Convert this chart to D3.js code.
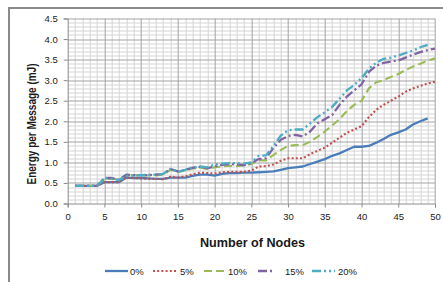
<!DOCTYPE html>
<html>
<head>
<meta charset="utf-8">
<script src="https://cdn.jsdelivr.net/npm/d3@7"></script>
<style>
  body { margin: 0; background: #ffffff; }
  text { font-family: "Liberation Sans", Arial, sans-serif; fill: #1a1a1a; }
</style>
</head>
<body>
<div id="visualization"></div>
<script>
// Number of nodes (x values)
var nodes = d3.range(1, 51);

// Energy per message (mJ) for each loss rate
var series0 = [0.43, 0.43, 0.43, 0.43, 0.52, 0.52, 0.52, 0.63, 0.62, 0.62,
  0.61, 0.60, 0.60, 0.63, 0.63, 0.63, 0.67, 0.70, 0.70, 0.68,
  0.72, 0.74, 0.74, 0.75, 0.75, 0.76, 0.77, 0.78, 0.82, 0.86,
  0.88, 0.90, 0.96, 1.02, 1.08, 1.16, 1.22, 1.30, 1.38, 1.38,
  1.40, 1.48, 1.57, 1.67, 1.73, 1.80, 1.92, 2.00, 2.07];
var series5 = [0.43, 0.43, 0.43, 0.43, 0.52, 0.52, 0.52, 0.63, 0.62, 0.61,
  0.60, 0.60, 0.59, 0.65, 0.63, 0.66, 0.71, 0.75, 0.74, 0.73,
  0.76, 0.77, 0.77, 0.77, 0.80, 0.90, 0.91, 0.95, 1.04, 1.10,
  1.10, 1.10, 1.20, 1.28, 1.36, 1.48, 1.60, 1.72, 1.80, 1.88,
  2.10, 2.28, 2.40, 2.50, 2.60, 2.72, 2.80, 2.86, 2.92, 2.96];
var series10 = [0.43, 0.43, 0.43, 0.43, 0.60, 0.60, 0.58, 0.70, 0.69, 0.68,
  0.68, 0.68, 0.70, 0.82, 0.77, 0.80, 0.85, 0.87, 0.84, 0.88,
  0.90, 0.92, 0.91, 0.93, 0.96, 1.05, 1.05, 1.18, 1.30, 1.40,
  1.42, 1.42, 1.50, 1.62, 1.75, 1.90, 2.05, 2.25, 2.40, 2.50,
  2.80, 2.95, 3.00, 3.08, 3.15, 3.25, 3.33, 3.40, 3.48, 3.53];
var series15 = [0.43, 0.43, 0.43, 0.43, 0.62, 0.62, 0.58, 0.70, 0.69, 0.69,
  0.69, 0.70, 0.72, 0.84, 0.78, 0.82, 0.87, 0.89, 0.86, 0.90,
  0.94, 0.96, 0.95, 0.93, 0.98, 1.08, 1.10, 1.35, 1.55, 1.64,
  1.67, 1.63, 1.75, 1.95, 2.05, 2.15, 2.40, 2.60, 2.75, 2.90,
  3.20, 3.35, 3.42, 3.45, 3.48, 3.55, 3.62, 3.68, 3.73, 3.77];
var series20 = [0.43, 0.43, 0.43, 0.43, 0.62, 0.60, 0.57, 0.67, 0.68, 0.69,
  0.70, 0.70, 0.72, 0.84, 0.77, 0.82, 0.88, 0.90, 0.88, 0.95,
  0.97, 0.98, 0.98, 0.97, 1.00, 1.16, 1.17, 1.40, 1.65, 1.78,
  1.80, 1.80, 1.95, 2.10, 2.22, 2.35, 2.55, 2.75, 2.88, 3.05,
  3.28, 3.42, 3.52, 3.55, 3.60, 3.66, 3.72, 3.80, 3.86];

// Legend labels and tick values
var seriesNames = ["0%", "5%", "10%", "15%", "20%"];
var xTicks = d3.range(0, 51, 5);
var yTicks = d3.range(0, 4.51, 0.5);

// Line styles for each series (colour and dash pattern)
var styles = [
  { color: "#4a7ebb", dash: null, width: 2.3 },
  { color: "#c0504d", dash: "2,2.2", width: 2.1 },
  { color: "#9bbb59", dash: "8,4", width: 2.1 },
  { color: "#8064a2", dash: "9,3,2,3", width: 2.3 },
  { color: "#4bacc6", dash: "9,3,2,3,2,3", width: 2.3 }
];

var allSeries = [series0, series5, series10, series15, series20];

// Set up the dimensions of the visualization
var totalWidth = 443, totalHeight = 282;
var margin = { top: 18.5, right: 8, bottom: 78.5, left: 67.7 };
var width = 435 - margin.left;
var height = 203.5 - margin.top;

var svg = d3.select("#visualization")
  .append("svg")
  .attr("width", totalWidth)
  .attr("height", totalHeight);

// Outer chart frame (only top and left edges fall inside the picture)
svg.append("path")
  .attr("d", "M9,282 L9,8 L443,8")
  .attr("fill", "none")
  .attr("stroke", "#8a8a8a")
  .attr("stroke-width", 2);

var g = svg.append("g")
  .attr("transform", "translate(" + margin.left + "," + margin.top + ")");

// Scales
var xScale = d3.scaleLinear().domain([0, 50]).range([0, width]);
var yScale = d3.scaleLinear().domain([0, 4.5]).range([height, 0]);

// Minor grid lines
g.append("g")
  .selectAll("line")
  .data(d3.range(1, 50).filter(function(d) { return d % 5 !== 0; }))
  .enter().append("line")
  .attr("x1", function(d) { return Math.round(xScale(d)) + 0.5; })
  .attr("x2", function(d) { return Math.round(xScale(d)) + 0.5; })
  .attr("y1", 0)
  .attr("y2", height)
  .attr("stroke", "#d4d4d4");

g.append("g")
  .selectAll("line")
  .data(d3.range(1, 45).filter(function(d) { return d % 5 !== 0; }))
  .enter().append("line")
  .attr("x1", 0)
  .attr("x2", width)
  .attr("y1", function(d) { return Math.round(yScale(d / 10)) + 0.5; })
  .attr("y2", function(d) { return Math.round(yScale(d / 10)) + 0.5; })
  .attr("stroke", "#d4d4d4");

// Major grid lines
g.append("g")
  .selectAll("line")
  .data(xTicks.slice(1))
  .enter().append("line")
  .attr("x1", function(d) { return Math.round(xScale(d)) + 0.5; })
  .attr("x2", function(d) { return Math.round(xScale(d)) + 0.5; })
  .attr("y1", 0)
  .attr("y2", height)
  .attr("stroke", "#a3a3a3");

g.append("g")
  .selectAll("line")
  .data(yTicks.slice(1))
  .enter().append("line")
  .attr("x1", 0)
  .attr("x2", width)
  .attr("y1", function(d) { return Math.round(yScale(d)) + 0.5; })
  .attr("y2", function(d) { return Math.round(yScale(d)) + 0.5; })
  .attr("stroke", "#a3a3a3");

// Axes
var xAxis = g.append("g")
  .attr("transform", "translate(0," + height + ")")
  .call(d3.axisBottom(xScale).tickValues(xTicks).tickSize(4).tickPadding(6)
    .tickFormat(d3.format("d")));

var yAxis = g.append("g")
  .call(d3.axisLeft(yScale).tickValues(yTicks).tickSize(4).tickPadding(6)
    .tickFormat(d3.format(".1f")));

[xAxis, yAxis].forEach(function(ax) {
  ax.select(".domain").attr("stroke", "#8c8c8c");
  ax.selectAll(".tick line").attr("stroke", "#8c8c8c");
  ax.selectAll("text")
    .style("font-family", "'Liberation Sans', Arial, sans-serif")
    .style("font-size", "9.5px")
    .attr("fill", "#1a1a1a");
});

// Lines for each series
var line = d3.line()
  .x(function(d, i) { return xScale(nodes[i]); })
  .y(function(d) { return yScale(d); });

allSeries.forEach(function(values, i) {
  g.append("path")
    .datum(values)
    .attr("fill", "none")
    .attr("stroke", styles[i].color)
    .attr("stroke-width", styles[i].width)
    .attr("stroke-dasharray", styles[i].dash)
    .attr("stroke-linejoin", "round")
    .attr("d", line);
});

// Axis titles
svg.append("text")
  .attr("x", 252.5)
  .attr("y", 247)
  .attr("text-anchor", "middle")
  .attr("textLength", 105)
  .attr("lengthAdjust", "spacingAndGlyphs")
  .style("font-size", "12.5px")
  .style("font-weight", "bold")
  .text("Number of Nodes");

svg.append("text")
  .attr("transform", "translate(35.5,124) rotate(-90)")
  .attr("text-anchor", "middle")
  .attr("textLength", 121)
  .attr("lengthAdjust", "spacingAndGlyphs")
  .style("font-size", "13px")
  .style("font-weight", "bold")
  .text("Energy per Message (mJ)");

// Legend
var legendX = [105, 153, 204, 258, 312];
var legendLen = [23, 24, 21, 16, 23];
var legendTextX = [130, 180, 228, 285, 338];
var legendY = 271;

seriesNames.forEach(function(name, i) {
  svg.append("line")
    .attr("x1", legendX[i])
    .attr("x2", legendX[i] + legendLen[i])
    .attr("y1", legendY)
    .attr("y2", legendY)
    .attr("stroke", styles[i].color)
    .attr("stroke-width", styles[i].width)
    .attr("stroke-dasharray", styles[i].dash);
  svg.append("text")
    .attr("x", legendTextX[i])
    .attr("y", legendY + 3.5)
    .style("font-size", "9.5px")
    .text(name);
});
</script>
</body>
</html>
